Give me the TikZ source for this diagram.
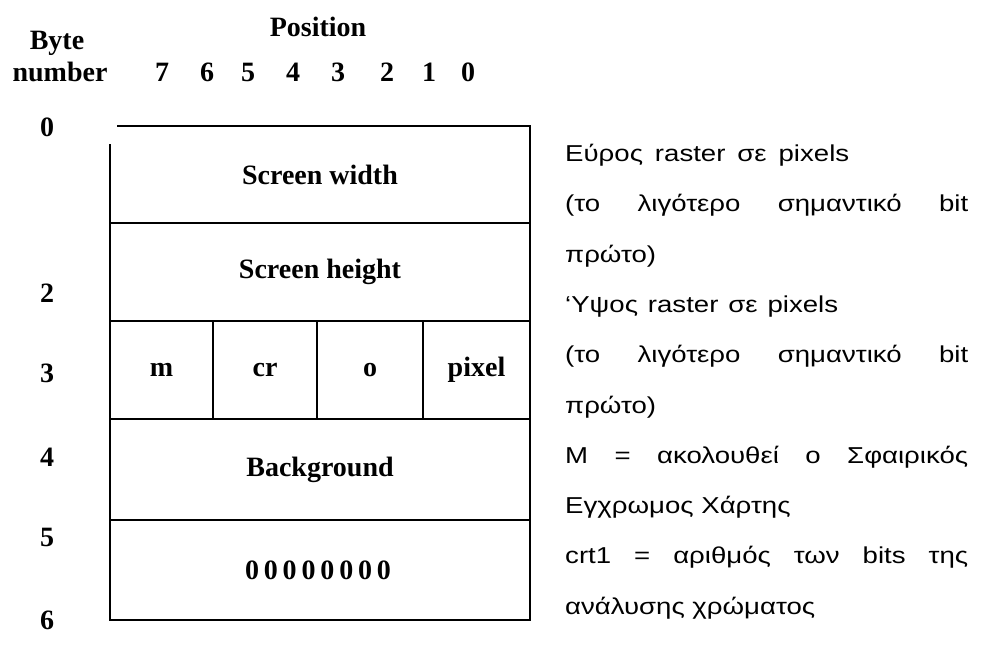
\documentclass[tikz,border=0pt]{standalone}
\usepackage{fontspec}
\setmainfont{Liberation Serif}
\newfontfamily\notefont[FakeStretch=1.2]{Liberation Sans}

\tikzset{
  hdr/.style={font=\fontsize{28}{32}\selectfont\bfseries, inner sep=0pt},
  cell/.style={font=\fontsize{28}{32}\selectfont\bfseries, inner sep=0pt},
  note/.style={font=\notefont\fontsize{23}{28}\selectfont, anchor=base west, inner sep=0pt},
  frame/.style={line width=2pt, line cap=rect}
}
% a line of notes spread to a given width
\newcommand{\spreadline}[2]{\makebox[#1][s]{#2}}

\begin{document}
\begin{tikzpicture}[x=1pt, y=-1pt]
\useasboundingbox[fill=white] (0,0) rectangle (981,653);

% column headings
\node[hdr] (pos) at (318,27) {Position};
\node[hdr] (byte) at (57,43) {Byte};
\node[hdr] (number) at (60,72) {number};
\foreach \d/\x in {7/162, 6/207, 5/248, 4/293, 3/338, 2/387, 1/429, 0/468}
  \node[hdr] (bit\d) at (\x,72) {\d};

% byte offsets down the left side
\foreach \n/\y in {0/127, 2/293, 3/373, 4/457, 5/537, 6/620}
  \node[hdr] (off\n) at (47,\y) {\n};

% record layout frame
\draw[frame] (118,126) -- (530,126) -- (530,620) -- (110,620) -- (110,145);
\foreach \y in {223, 321, 419, 520}
  \draw[frame] (110,\y) -- (530,\y);
\foreach \x in {213, 317, 423}
  \draw[frame] (\x,321) -- (\x,419);

% field names
\node[cell] (width)  at (320,174.5) {Screen width};
\node[cell] (height) at (320,272)   {Screen height};
\node[cell] (m)      at (161.5,370) {m};
\node[cell] (cr)     at (265,370)   {cr};
\node[cell] (o)      at (370,370)   {o};
\node[cell] (pixel)  at (476.5,370) {pixel};
\node[cell] (bg)     at (320,469.5) {Background};
\node[cell] (zero)   at (318,570)   {\spreadline{146pt}{0 0 0 0 0 0 0 0}};

% explanatory notes
\node[note] (n1)  at (565,161) {\spreadline{284pt}{Εύρος raster σε pixels}};
\node[note] (n2)  at (565,211) {\spreadline{403pt}{(το λιγότερο σημαντικό bit}};
\node[note] (n3)  at (565,262) {πρώτο)};
\node[note] (n4)  at (565,312) {\spreadline{273pt}{‘Υψος raster σε pixels}};
\node[note] (n5)  at (565,362) {\spreadline{403pt}{(το λιγότερο σημαντικό bit}};
\node[note] (n6)  at (565,413) {πρώτο)};
\node[note] (n7)  at (565,463) {\spreadline{403pt}{Μ = ακολουθεί ο Σφαιρικός}};
\node[note] (n8)  at (565,513) {Εγχρωμος Χάρτης};
\node[note] (n9)  at (565,563) {\spreadline{403pt}{crt1 = αριθμός των bits της}};
\node[note] (n10) at (565,614) {ανάλυσης χρώματος};
\end{tikzpicture}
\end{document}
